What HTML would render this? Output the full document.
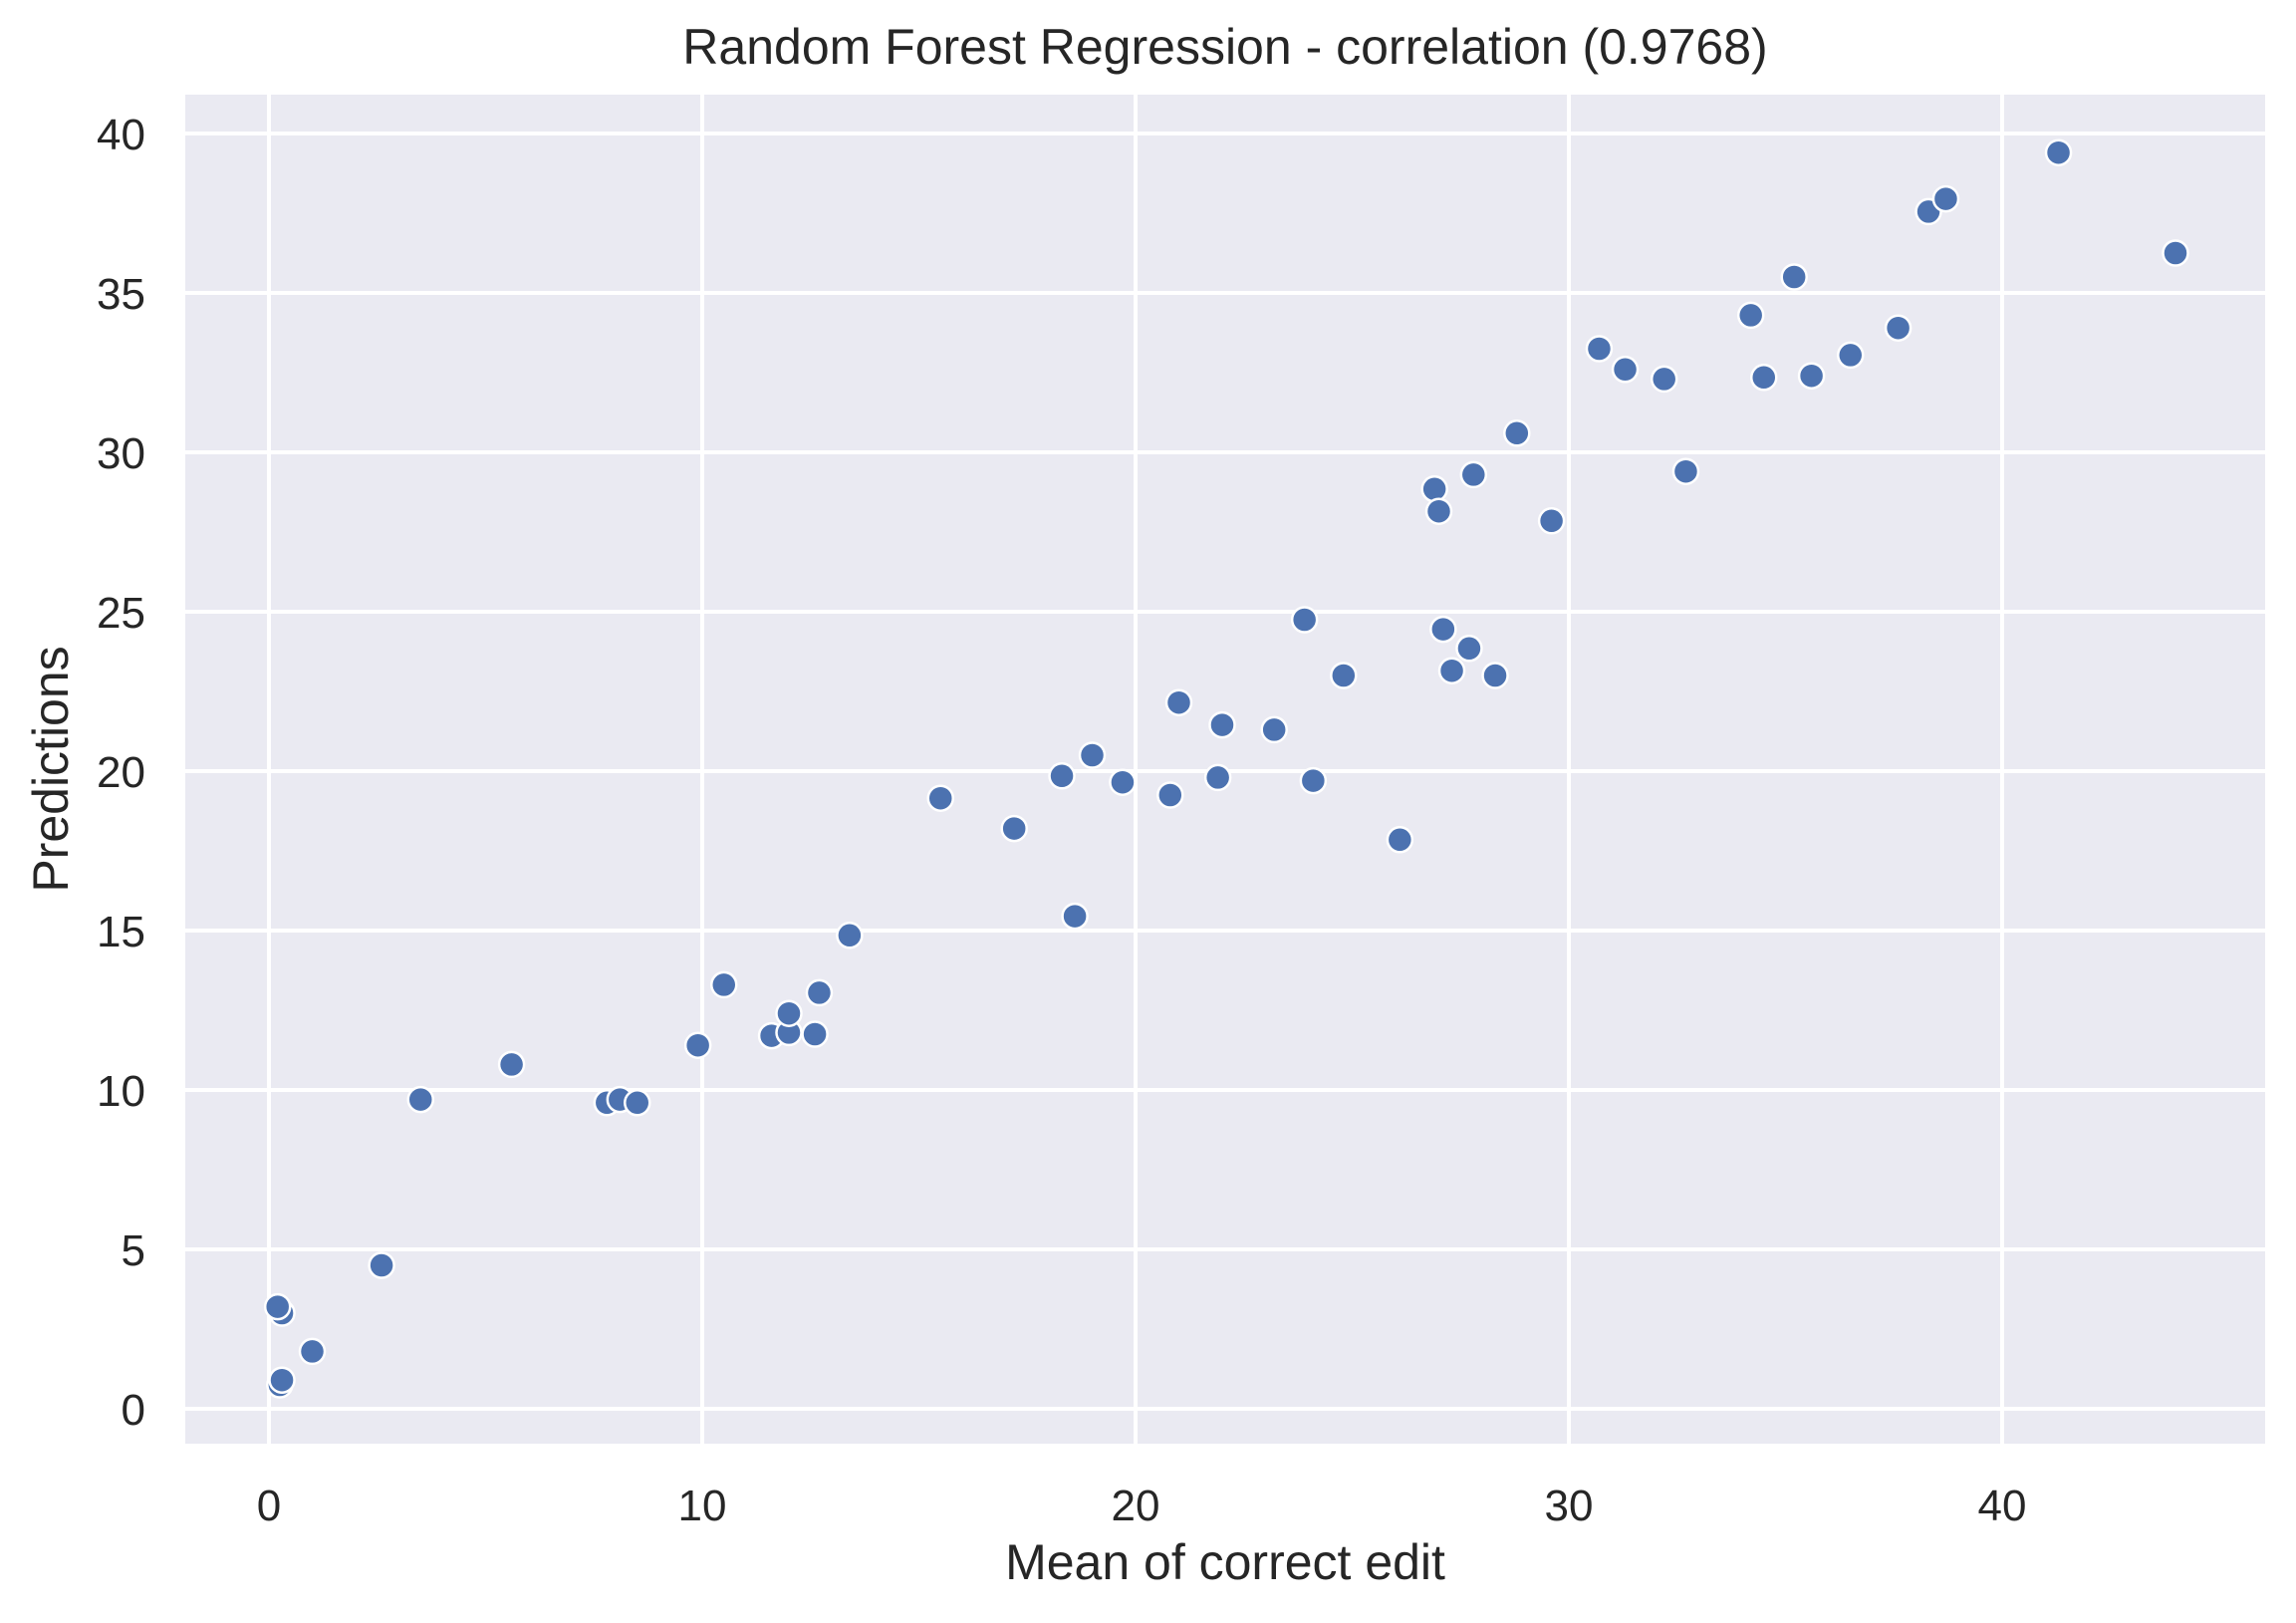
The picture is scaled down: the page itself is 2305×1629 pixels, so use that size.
<!DOCTYPE html>
<html><head><meta charset="utf-8"><style>
body{margin:0;background:#fff;}
svg text{font-family:"Liberation Sans",Arial,sans-serif;fill:#262626;}
</style></head><body>
<svg id="chart" width="2305" height="1624" xmlns="http://www.w3.org/2000/svg">
<rect x="186" y="95" width="2088" height="1354" fill="#eaeaf2"/>
<g id="grid"></g>
<g id="ticks"></g>
<g id="points"></g>
<text x="1230" y="64" font-size="50" text-anchor="middle">Random Forest Regression - correlation (0.9768)</text>
<text x="1230" y="1585" font-size="50" text-anchor="middle">Mean of correct edit</text>
<text x="0" y="0" font-size="50" text-anchor="middle" transform="translate(68,772) rotate(-90)">Predictions</text>
</svg>
<script>
const xVals=[0.25,0.3,0.3,0.2,1.0,2.6,3.5,5.6,7.8,8.1,8.5,9.9,10.5,11.6,12.0,12.0,12.6,12.7,13.4,15.5,17.2,18.3,18.6,19.0,19.7,20.8,21.0,21.9,22.0,23.2,23.9,24.1,24.8,26.1,26.9,27.0,27.1,27.3,27.8,27.7,28.3,28.8,29.6,30.7,31.3,32.2,32.7,34.2,34.5,35.2,35.6,36.5,37.6,38.3,38.7,41.3,44.0];
const yVals=[0.75,0.9,3.0,3.2,1.8,4.5,9.7,10.8,9.6,9.7,9.6,11.4,13.3,11.7,11.8,12.4,11.75,13.05,14.85,19.15,18.2,19.85,15.45,20.5,19.65,19.25,22.15,19.8,21.45,21.3,24.75,19.7,23.0,17.85,28.85,28.15,24.45,23.15,29.3,23.85,23.0,30.6,27.85,33.25,32.6,32.3,29.4,34.3,32.35,35.5,32.4,33.05,33.9,37.55,37.95,39.4,36.25];
const xTicks=[0,10,20,30,40];
const yTicks=[0,5,10,15,20,25,30,35,40];
const NS="http://www.w3.org/2000/svg";
function sx(v){return 270+v*43.5;}
function sy(v){return 1414-v*32;}
const grid=document.getElementById('grid'),ticks=document.getElementById('ticks'),pts=document.getElementById('points');
xTicks.forEach(t=>{
 const l=document.createElementNS(NS,'line');
 l.setAttribute('x1',sx(t));l.setAttribute('x2',sx(t));l.setAttribute('y1',95);l.setAttribute('y2',1449);
 l.setAttribute('stroke','#fff');l.setAttribute('stroke-width','4');
 
 
 grid.appendChild(l);
 const tx=document.createElementNS(NS,'text');
 tx.setAttribute('x',sx(t));tx.setAttribute('y',1526);tx.setAttribute('font-size','44');tx.setAttribute('text-anchor','middle');
 tx.textContent=t;
 
 
 ticks.appendChild(tx);
});
yTicks.forEach(t=>{
 const l=document.createElementNS(NS,'line');
 l.setAttribute('y1',sy(t));l.setAttribute('y2',sy(t));l.setAttribute('x1',186);l.setAttribute('x2',2274);
 l.setAttribute('stroke','#fff');l.setAttribute('stroke-width','4');
 
 
 grid.appendChild(l);
 const tx=document.createElementNS(NS,'text');
 tx.setAttribute('x',146);tx.setAttribute('y',sy(t)+16);tx.setAttribute('font-size','44');tx.setAttribute('text-anchor','end');
 tx.textContent=t;
 
 
 ticks.appendChild(tx);
});
xVals.forEach((x,i)=>{
 const c=document.createElementNS(NS,'circle');
 c.setAttribute('cx',sx(x));c.setAttribute('cy',sy(yVals[i]));c.setAttribute('r','12.5');
 c.setAttribute('fill','#4c72b0');c.setAttribute('stroke','#fff');c.setAttribute('stroke-width','2.5');
 
 
 pts.appendChild(c);
});
</script>
</body></html>
